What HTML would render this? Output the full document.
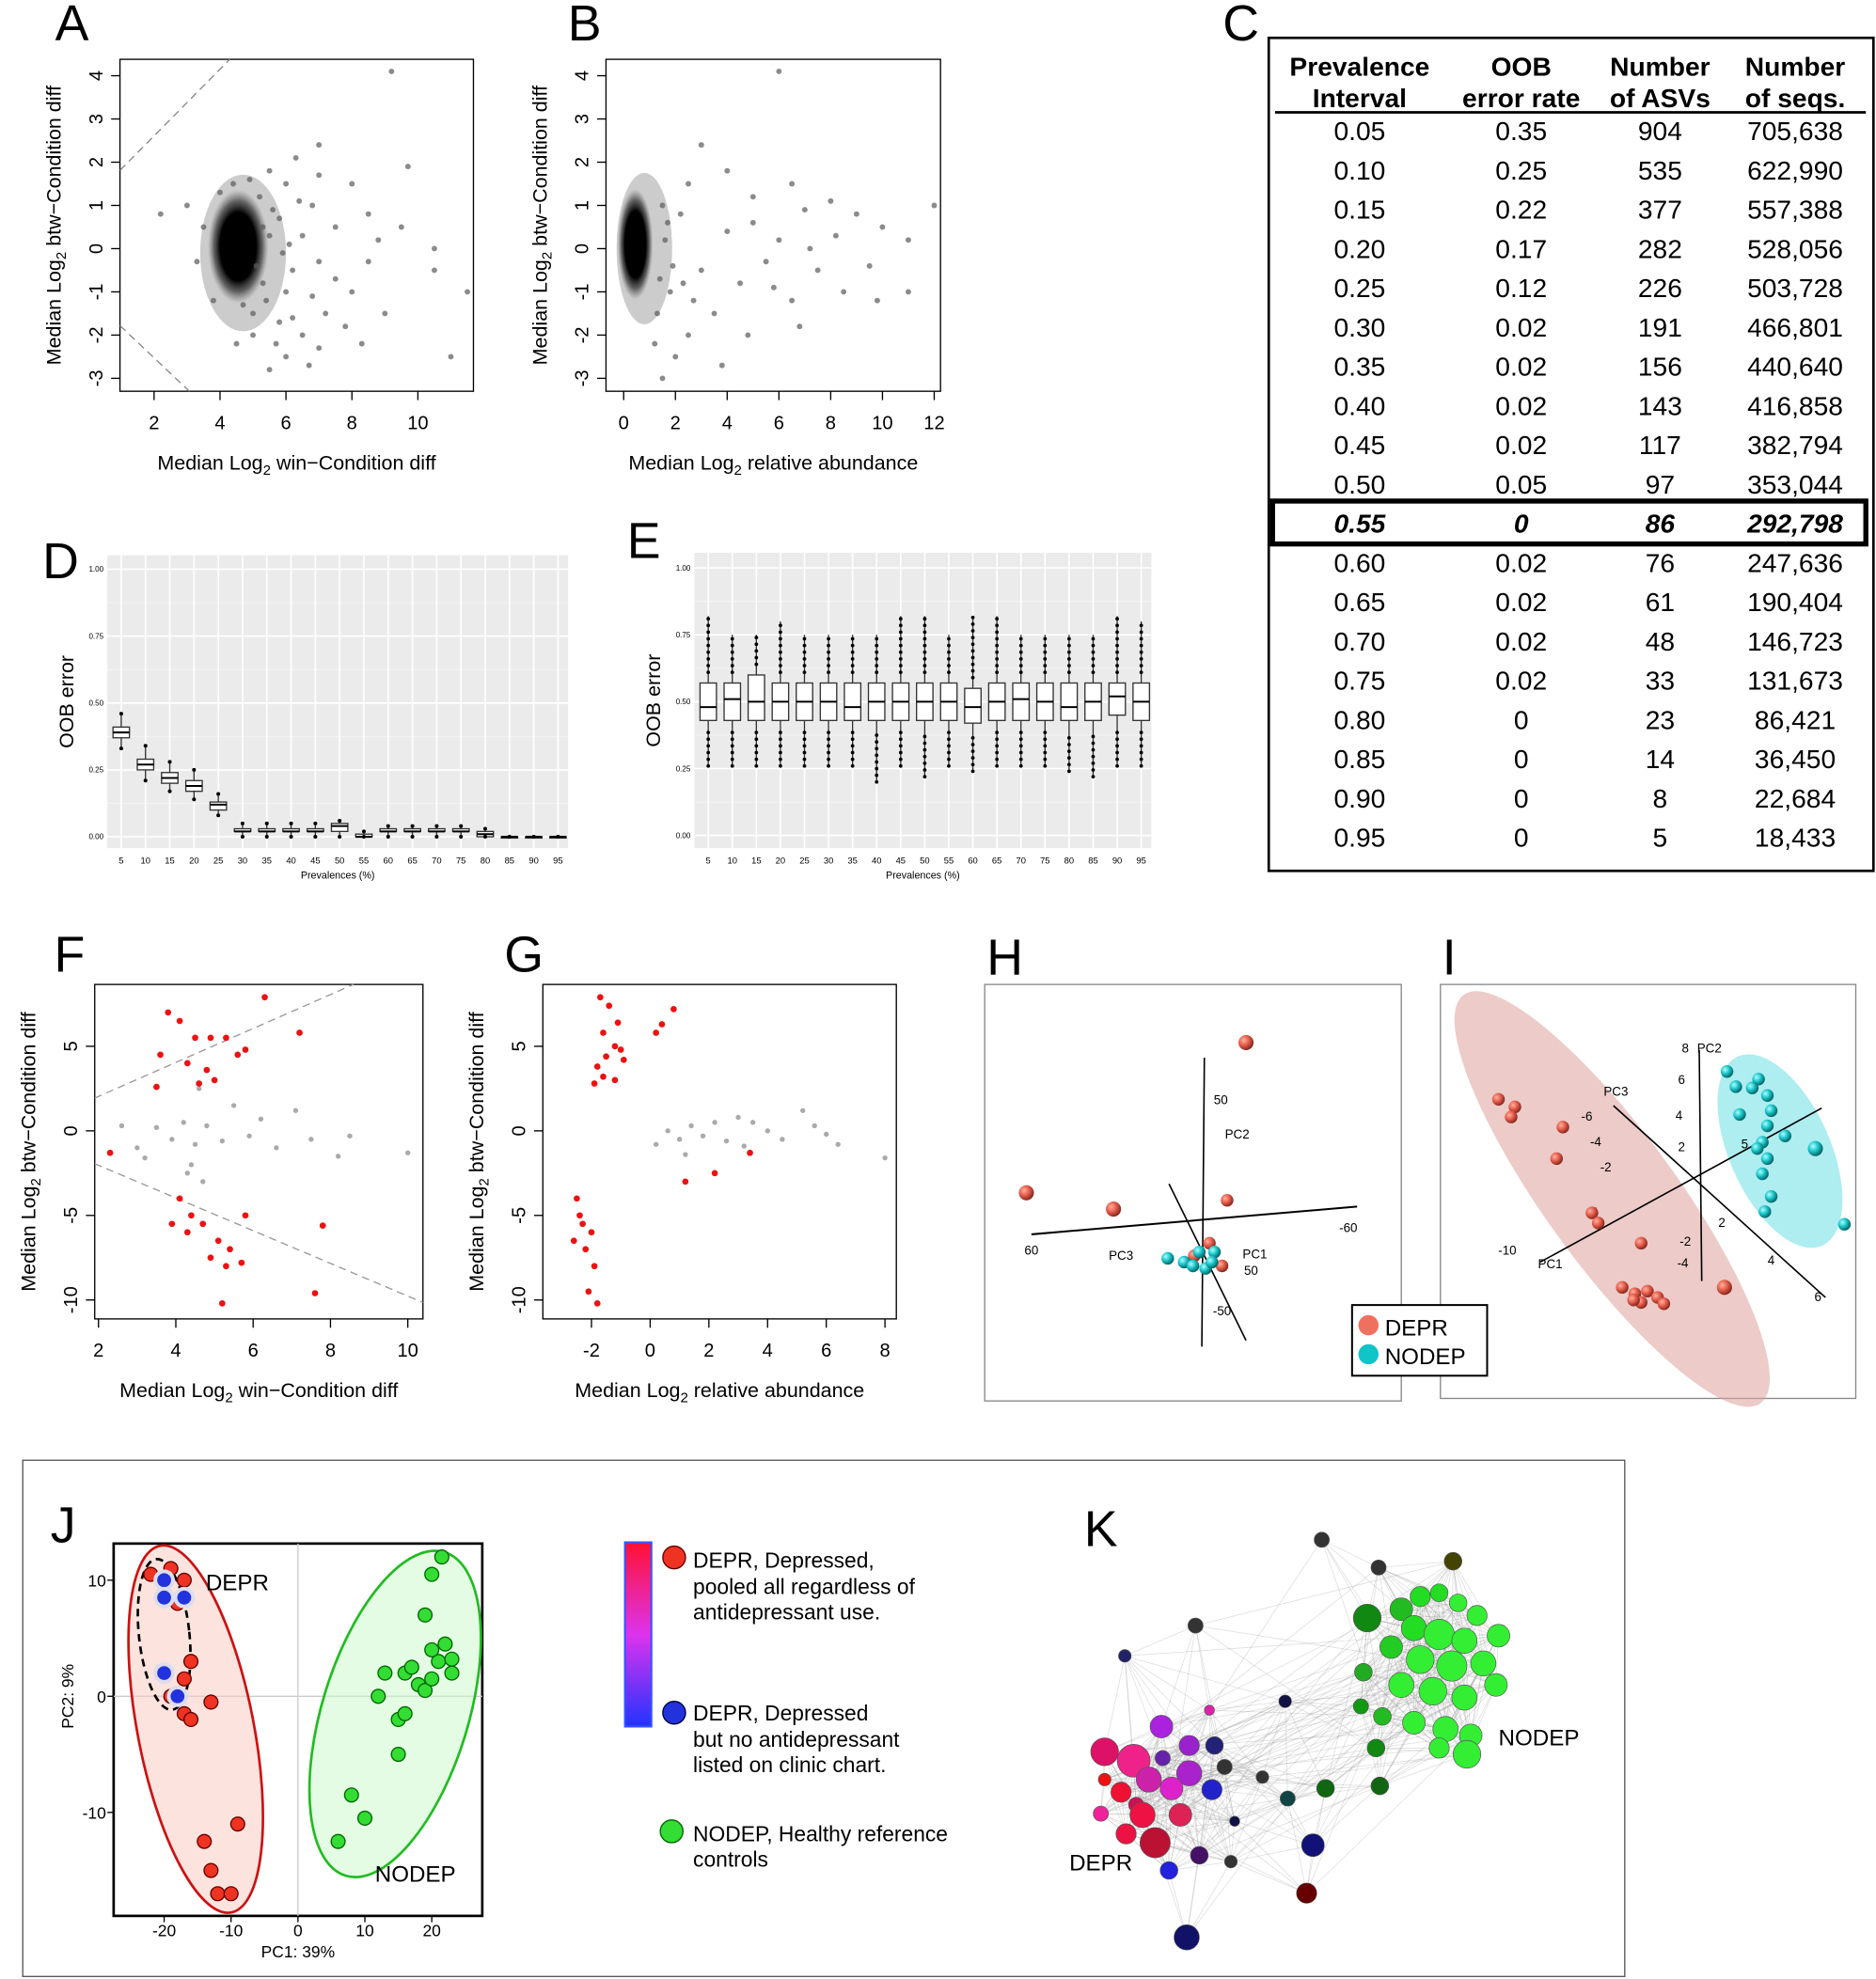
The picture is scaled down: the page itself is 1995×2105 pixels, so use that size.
<!DOCTYPE html>
<html><head><meta charset="utf-8"><style>
body{margin:0;background:#fff}
svg{display:block;font-family:"Liberation Sans",Arial,sans-serif}
</style></head><body>
<svg id="fig" width="1995" height="2105" viewBox="0 0 1486 1568" xmlns="http://www.w3.org/2000/svg">
<defs>
<radialGradient id="gRed" cx="35%" cy="35%" r="65%"><stop offset="0" stop-color="#ffb0a0"/><stop offset="0.5" stop-color="#e8604e"/><stop offset="1" stop-color="#8a2a20"/></radialGradient>
<radialGradient id="gCyan" cx="35%" cy="35%" r="65%"><stop offset="0" stop-color="#b0ffff"/><stop offset="0.5" stop-color="#1cc8cc"/><stop offset="1" stop-color="#06686a"/></radialGradient>
<radialGradient id="blob"><stop offset="0" stop-color="#000"/><stop offset="0.6" stop-color="#000"/><stop offset="0.8" stop-color="#333" stop-opacity="0.7"/><stop offset="1" stop-color="#666" stop-opacity="0"/></radialGradient>
</defs>
<g id="layer"></g>
</svg>
<script>
// ---------- DATA ----------
const aPoints=[[3,1],[2.2,0.8],[9.2,4.1],[7,2.4],[6.3,2.1],[5.5,1.8],[8.5,0.8],[10.5,0],[11.5,-1],[9.7,1.9],[10.5,-0.5],[11,-2.5],[7,-2.3],[6,-2.5],[5.5,-2.8],[6.5,-2],[7.2,-1.5],[8,-1],[5,-1.5],[6,-1],[7.5,0.5],[6.8,1],[5.8,0.7],[6.2,-0.5],[7,-0.3],[8.5,-0.3],[9,-1.5],[8,1.5],[5.2,1.2],[4,1.3],[3.8,-1.2],[4.5,-2.2],[5,-2],[6.7,-2.7],[7.8,-1.8],[5.5,0.3],[6.5,0.3],[7.5,-0.7],[8.8,0.2],[9.5,0.5],[6,1.5],[7,1.7],[5.3,-0.8],[4.9,1.6],[3.5,0.5],[3.3,-0.3],[6.2,-1.6],[6.8,-1.1],[8.3,-2.2],[5.7,-2.2],[5.4,-1.2],[5.6,0.9],[5.9,-0.1],[5.3,0.5],[5.1,-0.4],[4.7,-1.3],[6.4,1.1],[5.8,-1.7],[6.1,0.1],[4.4,1.5]];
const bPoints=[[6,4.1],[3,2.4],[2.5,1.5],[4,1.8],[5,1.2],[6.5,1.5],[7,0.9],[8,1.1],[9,0.8],[10,0.5],[12,1],[11,0.2],[9.5,-0.4],[8.5,-1],[7.5,-0.5],[6.5,-1.2],[5.5,-0.3],[4.5,-0.8],[3.5,-1.5],[2.5,-2],[2,-2.5],[1.5,-3],[1.2,-2.2],[1.8,-1],[3,-0.5],[4,0.4],[5,0.6],[6,0.2],[7.2,0],[8.2,0.3],[9.8,-1.2],[11,-1],[4.8,-2],[3.8,-2.7],[6.8,-1.8],[2.2,0.8],[1.5,1],[1.3,-1.5],[2.7,-1.2],[5.8,-0.9],[1.6,0.2],[1.9,-0.4],[2.3,-0.8],[1.4,-0.7],[1.7,0.6]];
const fRed=[[3.8,7],[4.1,6.5],[4.5,5.5],[4.9,5.5],[5.3,5.5],[5.8,4.8],[6.3,7.9],[7.2,5.8],[3.6,4.5],[4.3,4],[4.8,3.6],[5.6,4.5],[5.0,3],[4.6,2.8],[3.5,2.6],[2.3,-1.3],[4.1,-4],[4.4,-5],[4.7,-5.5],[5.1,-6.5],[5.4,-7],[5.7,-7.8],[5.3,-8],[5.2,-10.2],[3.9,-5.5],[4.3,-6],[5.8,-5],[7.8,-5.6],[7.6,-9.6],[4.9,-7.5]];
const fGray=[[2.6,0.3],[3,-1],[3.5,0.2],[3.9,-0.5],[4.2,0.5],[4.5,-0.8],[4.8,0.3],[5.2,-0.6],[5.5,1.5],[5.9,-0.3],[6.2,0.7],[6.6,-1],[7.1,1.2],[7.5,-0.5],[8.2,-1.5],[8.5,-0.3],[10,-1.3],[3.2,-1.6],[4.4,-2],[4.7,-3],[4.6,2.5],[4.3,-2.5]];
const gRedPts=[[-1.7,7.9],[-1.4,7.4],[-1.1,6.4],[0.2,5.8],[0.4,6.3],[-1.6,5.8],[-1.2,5.0],[-1.0,4.8],[-1.5,4.4],[-1.8,3.8],[-1.6,3.2],[-1.2,3.0],[-0.9,4.2],[-1.9,2.8],[-2.5,-4],[-2.4,-5],[-2.3,-5.5],[-2.0,-6],[-2.2,-7],[-1.9,-8],[-2.1,-9.5],[-1.8,-10.2],[-2.6,-6.5],[1.2,-3],[2.2,-2.5],[3.4,-1.3],[0.8,7.2]];
const gGray=[[0.2,-0.8],[0.6,0],[1.0,-0.5],[1.4,0.3],[1.8,-0.3],[2.2,0.5],[2.6,-0.6],[3.0,0.8],[3.5,0.5],[4.0,0],[4.5,-0.5],[5.2,1.2],[5.6,0.3],[6.0,-0.2],[6.4,-0.8],[8,-1.6],[3.2,-0.9],[1.2,-1.4]];
const dCats=[5,10,15,20,25,30,35,40,45,50,55,60,65,70,75,80,85,90,95];
const dMed=[0.39,0.27,0.22,0.19,0.12,0.02,0.02,0.02,0.02,0.04,0.0,0.02,0.02,0.02,0.02,0.01,0.0,0.0,0.0];
const dQ1=[0.37,0.25,0.20,0.17,0.10,0.02,0.02,0.02,0.02,0.02,0.0,0.02,0.02,0.02,0.02,0.0,0.0,0.0,0.0];
const dQ3=[0.41,0.29,0.24,0.21,0.13,0.03,0.03,0.03,0.03,0.05,0.01,0.03,0.03,0.03,0.03,0.02,0.0,0.0,0.0];
const dLo=[0.33,0.21,0.17,0.14,0.08,0.0,0.0,0.0,0.0,0.0,0.0,0.0,0.0,0.0,0.0,0.0,0.0,0.0,0.0];
const dHi=[0.46,0.34,0.28,0.25,0.16,0.05,0.05,0.05,0.05,0.06,0.02,0.04,0.04,0.04,0.04,0.03,0.0,0.0,0.0];
const eMed=[0.48,0.51,0.5,0.5,0.5,0.5,0.48,0.5,0.5,0.5,0.5,0.48,0.5,0.51,0.5,0.48,0.5,0.52,0.5];
const eQ1=[0.43,0.43,0.43,0.43,0.43,0.43,0.43,0.43,0.43,0.43,0.43,0.42,0.43,0.43,0.43,0.43,0.43,0.45,0.43];
const eQ3=[0.57,0.57,0.6,0.57,0.57,0.57,0.57,0.57,0.57,0.57,0.57,0.55,0.57,0.57,0.57,0.57,0.57,0.57,0.57];
const eLo=[0.26,0.26,0.26,0.26,0.26,0.26,0.26,0.2,0.26,0.22,0.26,0.24,0.26,0.26,0.26,0.24,0.22,0.26,0.26];
const eHi=[0.82,0.75,0.75,0.8,0.75,0.75,0.75,0.75,0.82,0.82,0.75,0.82,0.82,0.75,0.75,0.75,0.75,0.82,0.8];
const tblPrev=["0.05","0.10","0.15","0.20","0.25","0.30","0.35","0.40","0.45","0.50","0.55","0.60","0.65","0.70","0.75","0.80","0.85","0.90","0.95"];
const tblOob=["0.35","0.25","0.22","0.17","0.12","0.02","0.02","0.02","0.02","0.05","0","0.02","0.02","0.02","0.02","0","0","0","0"];
const tblAsv=["904","535","377","282","226","191","156","143","117","97","86","76","61","48","33","23","14","8","5"];
const tblSeq=["705,638","622,990","557,388","528,056","503,728","466,801","440,640","416,858","382,794","353,044","292,798","247,636","190,404","146,723","131,673","86,421","36,450","22,684","18,433"];
const jRed=[[-22,10.5],[-19,11],[-17,10],[-18,8],[-16,3],[-17,1.5],[-19,0],[-17,-1.5],[-16,-2],[-13,-0.5],[-14,-12.5],[-13,-15],[-12,-17],[-10,-17],[-9,-11]];
const jBlue=[[-20,10],[-20,8.5],[-17,8.5],[-20,2],[-18,0]];
const jGreen=[[6,-12.5],[8,-8.5],[10,-10.5],[15,-5],[15,-2],[16,-1.5],[12,0],[13,2],[16,2],[18,1],[19,0.5],[20,1.5],[21,3],[22,4.5],[23,2],[23,3.2],[20,4],[19,7],[20,10.5],[21.5,12],[17,2.5]];
const hRed=[[987,826,6],[813,945,6],[882,958,6],[946,995,5],[972,951,5],[968,1003,5],[958,985,5]];
const hCyan=[[925,997,5],[938,1000,5],[950,992,5],[962,992,5],[955,1005,5],[945,1003,5],[960,1000,5]];
const iRed=[[1187,871,5],[1200,877,5],[1197,885,5],[1238,893,5],[1233,918,5],[1261,961,5],[1266,969,5],[1300,985,5],[1285,1020,5],[1295,1025,5],[1305,1023,5],[1313,1028,5],[1300,1032,5],[1318,1033,5],[1294,1030,5],[1366,1020,6]];
const iCyan=[[1368,849,5],[1375,861,5],[1388,862,5],[1393,855,5],[1400,868,5],[1403,880,5],[1378,883,5],[1400,892,5],[1414,900,5],[1396,905,5],[1400,918,5],[1396,930,5],[1438,910,6],[1461,970,5],[1403,948,5],[1398,960,5],[1392,910,5]];
const kNodes=[[1047,1220,6,"#333"],[1092,1242,6,"#333"],[1151,1237,7,"#444400"],[1083,1282,11,"#118811"],[1110,1275,9,"#22bb22"],[1125,1265,8,"#22dd22"],[1140,1262,7,"#22dd22"],[1155,1270,7,"#33ee33"],[1170,1280,8,"#33ee33"],[1187,1296,9,"#33ee33"],[1120,1290,10,"#22dd22"],[1140,1295,12,"#33ee33"],[1160,1300,10,"#33ee33"],[1102,1305,9,"#22cc22"],[1125,1315,11,"#33ee33"],[1150,1320,12,"#33ee33"],[1175,1318,10,"#33ee33"],[1185,1335,9,"#33ee33"],[1110,1335,10,"#33ee33"],[1135,1340,11,"#33ee33"],[1160,1345,10,"#33ee33"],[1120,1365,9,"#33ee33"],[1145,1370,10,"#33ee33"],[1165,1375,9,"#33ee33"],[1162,1390,11,"#33ee33"],[1140,1385,8,"#33ee33"],[1095,1360,7,"#22bb22"],[1078,1352,6,"#119911"],[1090,1385,7,"#118811"],[1093,1415,7,"#116611"],[1050,1417,7,"#116611"],[1080,1325,7,"#22aa22"],[891,1312,5,"#222266"],[947,1288,6,"#333"],[1018,1348,5,"#111144"],[875,1388,11,"#dd1166"],[898,1395,13,"#ee2288"],[920,1368,9,"#aa22dd"],[942,1383,8,"#9922cc"],[958,1355,4,"#dd22aa"],[962,1383,7,"#222277"],[921,1393,6,"#6622aa"],[942,1405,10,"#aa22cc"],[910,1410,10,"#cc22aa"],[928,1417,9,"#dd22cc"],[960,1418,8,"#2222cc"],[888,1420,8,"#ee1133"],[900,1430,6,"#cc1155"],[872,1437,6,"#ee2299"],[905,1438,10,"#ee1144"],[935,1438,9,"#dd2255"],[970,1400,6,"#333"],[892,1453,8,"#ee1144"],[915,1460,12,"#bb1133"],[950,1470,7,"#441166"],[975,1475,5,"#333"],[926,1482,7,"#2222dd"],[978,1443,4,"#111144"],[1000,1408,5,"#333"],[1020,1425,6,"#114444"],[1040,1462,9,"#111177"],[1035,1500,8,"#660000"],[940,1535,10,"#111166"],[875,1410,5,"#ee1111"]];

// ---------- HELPERS ----------
const NS="http://www.w3.org/2000/svg";
const layer=document.getElementById('layer');
function mk(tag,attrs,parent,txt){const e=document.createElementNS(NS,tag);for(const k in attrs)e.setAttribute(k,attrs[k]);if(txt!==undefined)e.textContent=txt;(parent||layer).appendChild(e);return e;}
function lin(d0,d1,p0,p1){return v=>p0+(v-d0)*(p1-p0)/(d1-d0);}
function grp(name){const g=mk('g',{});return g;}
function label(t,x,y){const e=mk('text',{x:x,y:y,'font-size':40,'text-anchor':'middle'},layer,t);}
function rtext(g,t,x,y,fs){return mk('text',{x:x,y:y,'font-size':fs,'text-anchor':'middle',transform:`rotate(-90 ${x} ${y})`},g,t);}
function sub(g,x,y,fs,pre,s,post,rot){const t=mk('text',{x:x,y:y,'font-size':fs,'text-anchor':'middle'},g);if(rot)t.setAttribute('transform',`rotate(-90 ${x} ${y})`);mk('tspan',{},t,pre);mk('tspan',{'font-size':fs*0.7,dy:4},t,s);mk('tspan',{dy:-4},t,post);return t;}

// ---------- SCATTER PANELS ----------
function scatter(name,box,xd,yd,xt,yt,xlabel,sets,extra){
  const g=grp(name);
  const [x0,y0,x1,y1]=box;
  const sx=lin(xd[0],xd[1],xd[2],xd[3]),sy=lin(yd[0],yd[1],yd[2],yd[3]);
  mk('rect',{x:x0,y:y0,width:x1-x0,height:y1-y0,fill:'none',stroke:'#000','stroke-width':1},g);
  xt.forEach(v=>{mk('line',{x1:sx(v),x2:sx(v),y1:y1,y2:y1+7,stroke:'#000'},g);mk('text',{x:sx(v),y:y1+30,'font-size':15,'text-anchor':'middle'},g,v);});
  yt.forEach(v=>{mk('line',{x1:x0,x2:x0-7,y1:sy(v),y2:sy(v),stroke:'#000'},g);rtext(g,String(v),x0-14,sy(v),15);});
  if(extra)extra(g,sx,sy);
  sets.forEach(s=>s.pts.forEach(p=>{const c=mk('circle',{cx:sx(p[0]),cy:sy(p[1]),r:s.r,fill:s.c},g);}));
  sub(g,(x0+x1)/2,y1+62,16,'Median  Log','2',xlabel);
  sub(g,x0-47,(y0+y1)/2,16,'Median  Log','2',' btw\u2212Condition diff',true);
  return g;
}
label('A',57,32);
scatter('panel-a',[95,47,375,310],[2,10,122,331],[0,4,197,60],[2,4,6,8,10],[4,3,2,1,0,-1,-2,-3],'  win\u2212Condition diff',[{pts:aPoints,r:2.2,c:'rgba(90,90,90,0.7)',n:'point'}],(g,sx,sy)=>{
  mk('ellipse',{cx:sx(4.7),cy:sy(-0.1),rx:34,ry:62,fill:'rgba(110,110,110,0.35)'},g);
  mk('ellipse',{cx:sx(4.55),cy:sy(0.05),rx:24,ry:45,fill:'url(#blob)'},g);
  mk('line',{x1:95,y1:135,x2:182,y2:47,stroke:'#888','stroke-dasharray':'6,4'},g);
  mk('line',{x1:95,y1:258,x2:150,y2:310,stroke:'#888','stroke-dasharray':'6,4'},g);
});
label('B',463,32);
scatter('panel-b',[480,47,745,310],[0,12,494,740],[0,4,197,60],[0,2,4,6,8,10,12],[4,3,2,1,0,-1,-2,-3],'  relative abundance',[{pts:bPoints,r:2.2,c:'rgba(90,90,90,0.7)',n:'point'}],(g,sx,sy)=>{
  mk('ellipse',{cx:sx(0.8),cy:sy(0),rx:22,ry:60,fill:'rgba(110,110,110,0.35)'},g);
  mk('ellipse',{cx:sx(0.45),cy:sy(0.1),rx:14,ry:44,fill:'url(#blob)'},g);
});
label('F',55,770);
scatter('panel-f',[75,780,335,1045],[2,10,78,323],[0,5,896,829],[2,4,6,8,10],[5,0,-5,-10],'  win\u2212Condition diff',[{pts:fGray,r:2,c:'#aaa',n:'gray-point'},{pts:fRed,r:2.5,c:'#ee1111',n:'red-point'}],(g,sx,sy)=>{
  mk('line',{x1:75,y1:870,x2:280,y2:780,stroke:'#999','stroke-dasharray':'6,4'},g);
  mk('line',{x1:75,y1:922,x2:335,y2:1032,stroke:'#999','stroke-dasharray':'6,4'},g);
});
label('G',415,770);
scatter('panel-g',[430,780,710,1045],[0,8,515,701],[0,5,896,829],[-2,0,2,4,6,8],[5,0,-5,-10],'  relative abundance',[{pts:gGray,r:2,c:'#aaa',n:'gray-point'},{pts:gRedPts,r:2.5,c:'#ee1111',n:'red-point'}]);

// ---------- BOX PANELS ----------
function boxpanel(name,box,yv,med,q1,q3,lo,hi,outl){
  const g=grp(name);
  const [x0,y0,x1,y1]=box;
  mk('rect',{x:x0,y:y0,width:x1-x0,height:y1-y0,fill:'#ebebeb'},g);
  const sy=lin(0,1,yv[0],yv[1]);
  const sx=lin(0,dCats.length-1,x0+11,x1-8);
  [0.125,0.375,0.625,0.875].forEach(v=>mk('line',{x1:x0,x2:x1,y1:sy(v),y2:sy(v),stroke:'#f6f6f6','stroke-width':0.6},g));
  [0,0.25,0.5,0.75,1].forEach(v=>{mk('line',{x1:x0,x2:x1,y1:sy(v),y2:sy(v),stroke:'#fff','stroke-width':1.2},g);mk('text',{x:x0-3,y:sy(v)+2,'font-size':6,'text-anchor':'end'},g,v.toFixed(2));});
  dCats.forEach((c,i)=>{const x=sx(i);mk('line',{x1:x,x2:x,y1:y0,y2:y1,stroke:'#fff','stroke-width':1.2},g);mk('text',{x:x,y:y1+12,'font-size':7,'text-anchor':'middle'},g,c);});
  dCats.forEach((c,i)=>{const x=sx(i),w=13;
    mk('line',{x1:x,x2:x,y1:sy(lo[i]),y2:sy(hi[i]),stroke:'#333'},g);
    const r=mk('rect',{x:x-w/2,y:sy(q3[i]),width:w,height:Math.max(1,sy(q1[i])-sy(q3[i])),fill:'#fff',stroke:'#333'},g);
    
    mk('line',{x1:x-w/2,x2:x+w/2,y1:sy(med[i]),y2:sy(med[i]),stroke:'#000','stroke-width':1.5},g);
    if(outl){for(let v=lo[i];v<=q1[i]-0.04;v+=0.025)mk('circle',{cx:x,cy:sy(v),r:1.4,fill:'#000'},g);for(let v=q3[i]+0.04;v<=hi[i];v+=0.025)mk('circle',{cx:x,cy:sy(v),r:1.4,fill:'#000'},g);}
    else{mk('circle',{cx:x,cy:sy(lo[i]),r:1.5,fill:'#000'},g);mk('circle',{cx:x,cy:sy(hi[i]),r:1.5,fill:'#000'},g);}
  });
  mk('text',{x:(x0+x1)/2,y:y1+24,'font-size':8,'text-anchor':'middle'},g,'Prevalences (%)');
  rtext(g,'OOB error',x0-27,(y0+y1)/2,16);
}
label('D',48,458);
boxpanel('panel-d',[85,440,450,672],[663,451],dMed,dQ1,dQ3,dLo,dHi,false);
label('E',510,442);
boxpanel('panel-e',[550,438,912,672],[662,450],eMed,eQ1,eQ3,eLo,eHi,true);

// ---------- TABLE C ----------
(function(){const g=grp('panel-c-table');
  mk('rect',{x:1005,y:30,width:479,height:660,fill:'none',stroke:'#000','stroke-width':2},g);
  const cx=[1077,1205,1315,1422];
  [['Prevalence','Interval'],['OOB','error rate'],['Number','of ASVs'],['Number','of seqs.']].forEach((h,i)=>{mk('text',{x:cx[i],y:60,'font-size':21,'font-weight':'bold','text-anchor':'middle'},g,h[0]);mk('text',{x:cx[i],y:85,'font-size':21,'font-weight':'bold','text-anchor':'middle'},g,h[1]);});
  mk('line',{x1:1010,x2:1478,y1:89,y2:89,stroke:'#000','stroke-width':2},g);
  tblPrev.forEach((p,i)=>{const y=111+i*31.1;const hl=i===10;
    [p,tblOob[i],tblAsv[i],tblSeq[i]].forEach((v,j)=>{const t=mk('text',{x:cx[j],y:y,'font-size':21,'text-anchor':'middle'},g,v);if(hl){t.setAttribute('font-weight','bold');t.setAttribute('font-style','italic');}});
    if(hl)mk('rect',{x:1008,y:y-25,width:470,height:34,fill:'none',stroke:'#000','stroke-width':4},g);
  });
})();
label('C',983,32);

// ---------- H ----------
label('H',796,772);
(function(){const g=grp('panel-h');
  mk('rect',{x:780,y:780,width:330,height:330,fill:'none',stroke:'#888'},g);
  mk('line',{x1:817,y1:978,x2:1075,y2:956,stroke:'#000','stroke-width':1.5},g);
  mk('line',{x1:954,y1:838,x2:952,y2:1067,stroke:'#000','stroke-width':1.2},g);
  mk('line',{x1:926,y1:938,x2:987,y2:1062,stroke:'#000','stroke-width':1.2},g);
  [['50',967,875],['PC2',980,902],['60',817,994],['PC3',888,998],['PC1',994,997],['50',991,1010],['-60',1068,976],['-50',968,1042]].forEach(t=>mk('text',{x:t[1],y:t[2],'font-size':10,'text-anchor':'middle'},g,t[0]));
  hRed.forEach(p=>{const c=mk('circle',{cx:p[0],cy:p[1],r:p[2],fill:'url(#gRed)'},g);});
  hCyan.forEach(p=>{const c=mk('circle',{cx:p[0],cy:p[1],r:p[2],fill:'url(#gCyan)'},g);});
})();
// ---------- I ----------
label('I',1148,772);
(function(){const g=grp('panel-i');
  mk('rect',{x:1141,y:780,width:329,height:328,fill:'none',stroke:'#888'},g);
  mk('ellipse',{cx:1277,cy:950,rx:52,ry:200,fill:'rgba(220,160,155,0.55)',transform:'rotate(-36 1277 950)'},g);
  mk('ellipse',{cx:1410,cy:912,rx:40,ry:82,fill:'rgba(120,225,230,0.6)',transform:'rotate(-24 1410 912)'},g);
  mk('line',{x1:1220,y1:1000,x2:1443,y2:878,stroke:'#000','stroke-width':1.2},g);
  mk('line',{x1:1346,y1:832,x2:1348,y2:1015,stroke:'#000','stroke-width':1.2},g);
  mk('line',{x1:1278,y1:876,x2:1446,y2:1028,stroke:'#000','stroke-width':1.2},g);
  [['8',1335,834],['PC2',1354,834],['6',1332,859],['4',1330,887],['2',1332,912],['-2',1335,987],['-4',1333,1004],['PC3',1280,868],['-6',1257,888],['-4',1264,908],['-2',1272,928],['-5',1261,964],['-10',1194,994],['PC1',1228,1005],['2',1364,972],['4',1403,1002],['6',1440,1031],['5',1382,910]].forEach(t=>mk('text',{x:t[1],y:t[2],'font-size':10,'text-anchor':'middle'},g,t[0]));
  iRed.forEach(p=>{const c=mk('circle',{cx:p[0],cy:p[1],r:p[2],fill:'url(#gRed)'},g);});
  iCyan.forEach(p=>{const c=mk('circle',{cx:p[0],cy:p[1],r:p[2],fill:'url(#gCyan)'},g);});
})();
(function(){const g=grp('legend-hi');
  mk('rect',{x:1071,y:1034,width:107,height:56,fill:'#fff',stroke:'#000','stroke-width':1.5},g);
  mk('circle',{cx:1084,cy:1050,r:8,fill:'#f07060'},g);mk('text',{x:1097,y:1058,'font-size':18},g,'DEPR');
  mk('circle',{cx:1084,cy:1073,r:8,fill:'#10c4c8'},g);mk('text',{x:1097,y:1081,'font-size':18},g,'NODEP');
})();

// ---------- BOTTOM BOX ----------
mk('rect',{x:18,y:1157,width:1269,height:409,fill:'none',stroke:'#555','stroke-width':1});
label('J',50,1222);
(function(){const g=grp('panel-j');
  const sx=lin(0,10,236,289),sy=lin(0,10,1344,1252);
  mk('rect',{x:90,y:1223,width:292,height:295,fill:'none',stroke:'#000','stroke-width':2},g);
  mk('line',{x1:sx(0),x2:sx(0),y1:1223,y2:1518,stroke:'#ccc'},g);
  mk('line',{x1:90,x2:382,y1:sy(0),y2:sy(0),stroke:'#ccc'},g);
  [-20,-10,0,10,20].forEach(v=>{mk('line',{x1:sx(v),x2:sx(v),y1:1518,y2:1523,stroke:'#000'},g);mk('text',{x:sx(v),y:1534,'font-size':13,'text-anchor':'middle'},g,v);});
  [10,0,-10].forEach(v=>{mk('line',{x1:90,x2:85,y1:sy(v),y2:sy(v),stroke:'#000'},g);mk('text',{x:84,y:sy(v)+5,'font-size':13,'text-anchor':'end'},g,v);});
  mk('text',{x:236,y:1551,'font-size':13,'text-anchor':'middle'},g,'PC1: 39%');
  rtext(g,'PC2: 9%',58,1344,13);
  mk('ellipse',{cx:155,cy:1370,rx:46,ry:148,fill:'rgba(250,200,190,0.5)',stroke:'#cc1111','stroke-width':2,transform:'rotate(-11 155 1370)'},g);
  mk('ellipse',{cx:313,cy:1358,rx:58,ry:134,fill:'rgba(200,250,200,0.5)',stroke:'#22bb22','stroke-width':2,transform:'rotate(17 313 1358)'},g);
  mk('ellipse',{cx:130,cy:1295,rx:20,ry:60,fill:'none',stroke:'#000','stroke-width':2,'stroke-dasharray':'6,4',transform:'rotate(-6 130 1295)'},g);
  mk('text',{x:163,y:1260,'font-size':18},g,'DEPR');
  mk('text',{x:297,y:1491,'font-size':18},g,'NODEP');
  jRed.forEach(p=>{const c=mk('circle',{cx:sx(p[0]),cy:sy(p[1]),r:5.5,fill:'#ee3322',stroke:'#600',"stroke-width":1},g);});
  jBlue.forEach(p=>{const c=mk('circle',{cx:sx(p[0]),cy:sy(p[1]),r:7,fill:'#2233dd',stroke:'#dde','stroke-width':3},g);});
  jGreen.forEach(p=>{const c=mk('circle',{cx:sx(p[0]),cy:sy(p[1]),r:5.5,fill:'#33dd33',stroke:'#060','stroke-width':1},g);});
})();
(function(){const g=grp('legend-jk');
  const lg=mk('linearGradient',{id:'cbar',x1:0,y1:0,x2:0,y2:1},g);
  mk('stop',{offset:0,'stop-color':'#ff1133'},lg);mk('stop',{offset:0.5,'stop-color':'#dd33ee'},lg);mk('stop',{offset:1,'stop-color':'#2233ff'},lg);
  mk('rect',{x:495,y:1222,width:21,height:146,fill:'url(#cbar)',stroke:'#3355ff','stroke-width':1.5},g);
  mk('circle',{cx:534,cy:1234,r:9,fill:'#ee3322',stroke:'#600'},g);
  mk('circle',{cx:534,cy:1357,r:9,fill:'#2233dd',stroke:'#003'},g);
  mk('circle',{cx:532,cy:1451,r:9,fill:'#33dd33',stroke:'#060'},g);
  [['DEPR, Depressed,',549,1242],['pooled all regardless of',549,1263],['antidepressant use.',549,1283],['DEPR, Depressed',549,1363],['but no antidepressant',549,1384],['listed on clinic chart.',549,1404],['NODEP, Healthy reference',549,1459],['controls',549,1479]].forEach(t=>mk('text',{x:t[1],y:t[2],'font-size':17},g,t[0]));
})();
label('K',872,1225);
(function(){const g=grp('panel-k');
  const eg=mk('g',{stroke:'rgba(150,150,150,0.3)','stroke-width':0.6},g);
  for(let i=0;i<kNodes.length;i++)for(let j=i+1;j<kNodes.length;j++){const a=kNodes[i],b=kNodes[j];const d=Math.hypot(a[0]-b[0],a[1]-b[1]);if(d<90||(d<260&&(i*3+j)%13===0))mk('line',{x1:a[0],y1:a[1],x2:b[0],y2:b[1]},eg);}
  kNodes.forEach(n=>{const c=mk('circle',{cx:n[0],cy:n[1],r:n[2],fill:n[3],stroke:'#555','stroke-width':0.5},g);});
  mk('text',{x:1187,y:1383,'font-size':18},g,'NODEP');
  mk('text',{x:847,y:1482,'font-size':18},g,'DEPR');
})();
</script>
</body></html>
